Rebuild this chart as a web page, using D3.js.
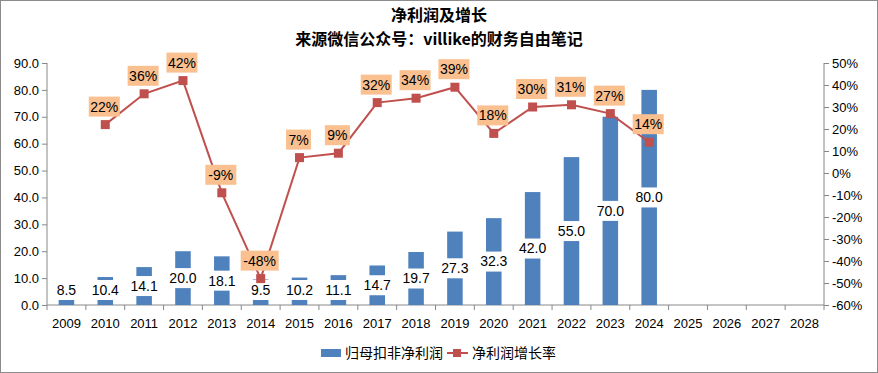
<!DOCTYPE html>
<html>
<head>
<meta charset="utf-8">
<script src="https://cdn.jsdelivr.net/npm/d3@7"></script>
<style>
  body { margin: 0; background: #fff; }
  svg { display: block; font-family: "Liberation Sans", Arial, "Noto Sans CJK SC", sans-serif; }
</style>
</head>
<body>
<svg width="878" height="373"></svg>
<script>
// data
var years = ["2009","2010","2011","2012","2013","2014","2015","2016","2017","2018",
             "2019","2020","2021","2022","2023","2024","2025","2026","2027","2028"];
var profit = [8.5, 10.4, 14.1, 20.0, 18.1, 9.5, 10.2, 11.1, 14.7, 19.7,
              27.3, 32.3, 42.0, 55.0, 70.0, 80.0, null, null, null, null];
var growth = [null, 22, 36, 42, -9, -48, 7, 9, 32, 34,
              39, 18, 30, 31, 27, 14, null, null, null, null];
var leftTicks = [0, 10, 20, 30, 40, 50, 60, 70, 80, 90];
var rightTicks = [-60, -50, -40, -30, -20, -10, 0, 10, 20, 30, 40, 50];
var titleLines = ["净利润及增长", "来源微信公众号：villike的财务自由笔记"];

var svg = d3.select("svg"),
    width = +svg.attr("width"),
    height = +svg.attr("height");

var cjk = "'Noto Sans CJK SC', sans-serif";

// border
svg.append("rect")
    .attr("x", 0.5).attr("y", 0.5)
    .attr("width", width - 1).attr("height", height - 1)
    .attr("fill", "#fff").attr("stroke", "#8c8c8c").attr("stroke-width", 1);

// title
svg.selectAll(".title").data(titleLines).enter().append("text")
    .attr("x", 439).attr("y", function (d, i) { return i === 0 ? 20.5 : 44.5; })
    .attr("text-anchor", "middle").style("font-size", "16px").style("font-weight", "bold")
    .style("font-family", cjk).text(function (d) { return d; });

var pLeft = 47, pRight = 824, pTop = 63, pBottom = 305;

var x = d3.scaleBand().domain(years).range([pLeft, pRight]).paddingInner(0.6).paddingOuter(0.3);
var xPoint = function (d) { return x(d) + x.bandwidth() / 2; };
var yL = d3.scaleLinear().domain([0, 90]).range([pBottom, pTop]);
var yR = d3.scaleLinear().domain([-60, 50]).range([pBottom, pTop]);

// left axis
var gL = svg.append("g").attr("transform", "translate(" + pLeft + ",0)")
    .call(d3.axisLeft(yL).tickValues(leftTicks).tickFormat(d3.format(".1f")).tickSize(5).tickPadding(3));
// right axis
var gR = svg.append("g").attr("transform", "translate(" + pRight + ",0)")
    .call(d3.axisRight(yR).tickValues(rightTicks).tickFormat(function (d) { return d + "%"; }).tickSize(5).tickPadding(3));
[gL, gR].forEach(function (g) {
    g.select(".domain").attr("stroke", "#888").attr("d", "M0," + pTop + "V" + pBottom);
    g.selectAll(".tick line").attr("stroke", "#888");
    g.selectAll("text").style("font-size", "13px").attr("fill", "#000")
        .style("font-family", "'Liberation Sans', Arial, sans-serif");
});

// x axis
var gX = svg.append("g").attr("transform", "translate(0," + pBottom + ")");
gX.append("line").attr("x1", pLeft).attr("x2", pRight).attr("stroke", "#888");
gX.selectAll(".xt").data(d3.range(years.length + 1)).enter().append("line")
    .attr("x1", function (i) { return pLeft + i * x.step(); })
    .attr("x2", function (i) { return pLeft + i * x.step(); })
    .attr("y1", 0).attr("y2", 5).attr("stroke", "#888");
gX.selectAll(".xl").data(years).enter().append("text")
    .attr("x", xPoint).attr("y", 23).attr("text-anchor", "middle")
    .style("font-size", "13px").text(function (d) { return d; });

// bars
var barData = years.map(function (y, i) { return { year: y, v: profit[i] }; }).filter(function (d) { return d.v != null; });
svg.append("g").selectAll("rect").data(barData).enter().append("rect")
    .attr("x", function (d) { return x(d.year); })
    .attr("width", x.bandwidth())
    .attr("y", function (d) { return yL(d.v); })
    .attr("height", function (d) { return pBottom - yL(d.v); })
    .attr("fill", "#4F81BD");

// bar labels (centered, white box)
var bl = svg.append("g").selectAll("g").data(barData).enter().append("g")
    .attr("transform", function (d) {
        var cy = Math.min((yL(d.v) + pBottom) / 2, pBottom - 15);
        return "translate(" + xPoint(d.year) + "," + cy + ")";
    });
bl.append("rect").attr("x", -17).attr("y", -10).attr("width", 34).attr("height", 20).attr("fill", "#fff");
bl.append("text").attr("text-anchor", "middle").attr("dy", "0.35em")
    .style("font-size", "14px").text(function (d) { return d.v.toFixed(1); });

// line
var lineData = years.map(function (y, i) { return { year: y, v: growth[i] }; }).filter(function (d) { return d.v != null; });
svg.append("path").datum(lineData)
    .attr("fill", "none").attr("stroke", "#C0504D").attr("stroke-width", 2)
    .attr("d", d3.line().x(function (d) { return xPoint(d.year); }).y(function (d) { return yR(d.v); }));
svg.append("g").selectAll("rect").data(lineData).enter().append("rect")
    .attr("x", function (d) { return xPoint(d.year) - 4.5; })
    .attr("y", function (d) { return yR(d.v) - 4.5; })
    .attr("width", 9).attr("height", 9).attr("fill", "#C0504D");

// line labels
var ll = svg.append("g").selectAll("g").data(lineData).enter().append("g")
    .attr("transform", function (d) { return "translate(" + (xPoint(d.year) - 1) + "," + (yR(d.v) - 18) + ")"; });
ll.append("rect")
    .attr("x", function (d) { var n = String(d.v).length; return n > 2 ? -19 : (n > 1 ? -15.5 : -12.5); })
    .attr("y", -10)
    .attr("width", function (d) { var n = String(d.v).length; return n > 2 ? 38 : (n > 1 ? 31 : 25); })
    .attr("height", 20).attr("fill", "#FAC090");
ll.append("text").attr("text-anchor", "middle").attr("dy", "0.35em")
    .style("font-size", "14px").text(function (d) { return d.v + "%"; });

// legend
var lg = svg.append("g").attr("transform", "translate(0,353)");
lg.append("rect").attr("x", 321).attr("y", -4).attr("width", 20).attr("height", 8).attr("fill", "#4F81BD");
lg.append("text").attr("x", 345).attr("dy", "0.35em").style("font-size", "14px")
    .style("font-family", cjk).text("归母扣非净利润");
lg.append("line").attr("x1", 447).attr("x2", 468).attr("stroke", "#C0504D").attr("stroke-width", 2);
lg.append("rect").attr("x", 453).attr("y", -4).attr("width", 8).attr("height", 8).attr("fill", "#C0504D");
lg.append("text").attr("x", 472).attr("dy", "0.35em").style("font-size", "14px")
    .style("font-family", cjk).text("净利润增长率");
</script>
</body>
</html>
